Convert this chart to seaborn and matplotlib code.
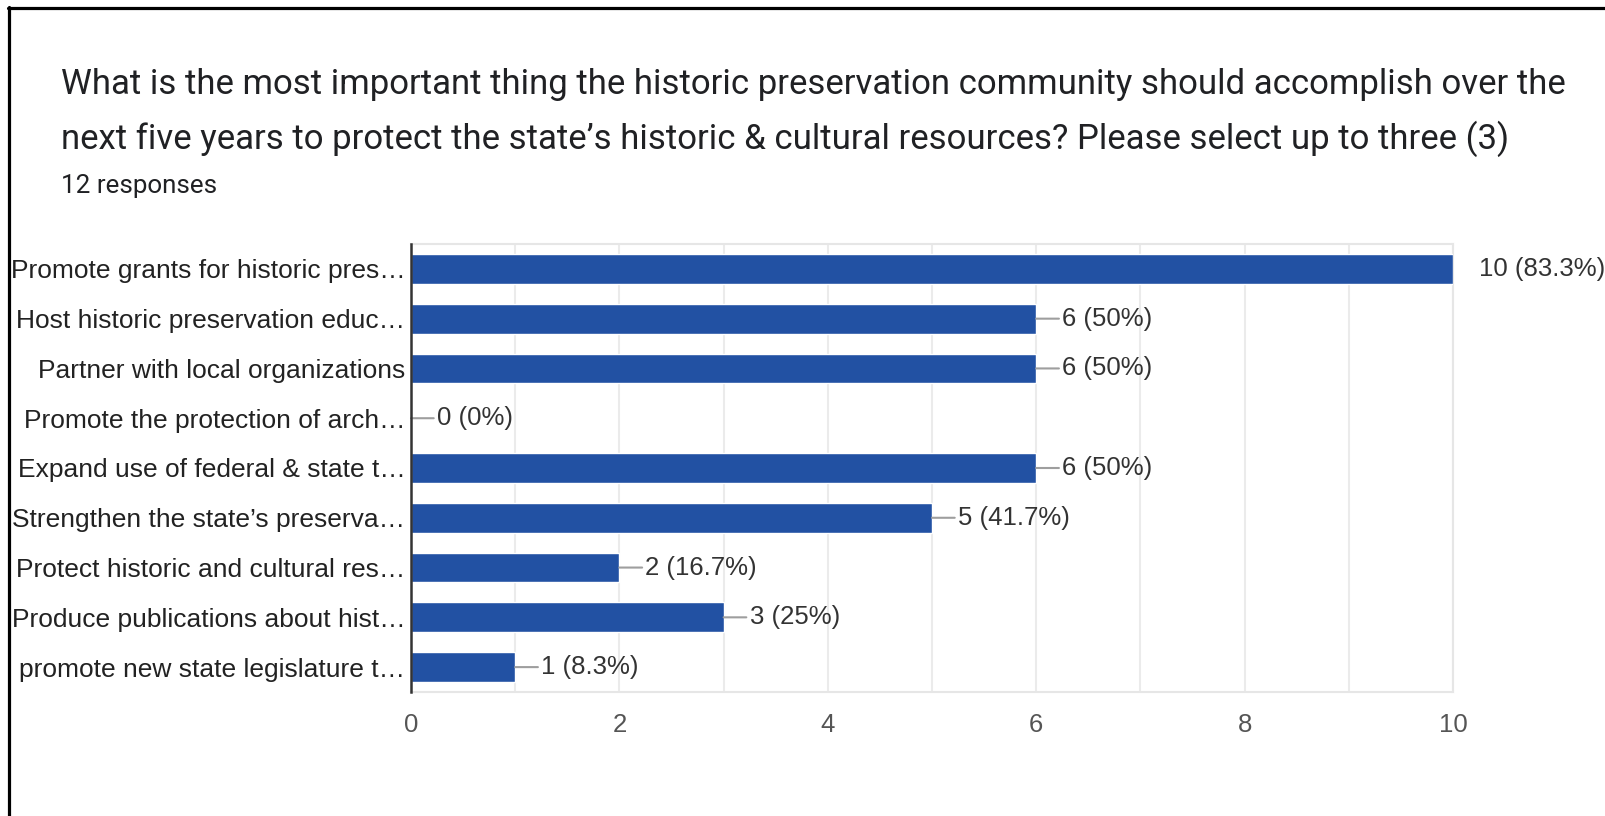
import matplotlib
matplotlib.use("Agg")
import matplotlib.pyplot as plt
from matplotlib.lines import Line2D
import seaborn as sns
import pandas as pd

# ---- data ----
categories = [
    "Promote grants for historic pres…",
    "Host historic preservation educ…",
    "Partner with local organizations",
    "Promote the protection of arch…",
    "Expand use of federal & state t…",
    "Strengthen the state’s preserva…",
    "Protect historic and cultural res…",
    "Produce publications about hist…",
    "promote new state legislature t…",
]
counts = [10, 6, 6, 0, 6, 5, 2, 3, 1]
n_responses = 12
x_ticks = [0, 2, 4, 6, 8, 10]
title_lines = [
    "What is the most important thing the historic preservation community should accomplish over the",
    "next five years to protect the state’s historic & cultural resources? Please select up to three (3)",
]
subtitle = f"{n_responses} responses"

df = pd.DataFrame({"category": categories, "count": counts})

sns.set_theme(style="white")
plt.rcParams["font.family"] = ["Liberation Sans", "DejaVu Sans"]

W, H = 1605, 816
fig = plt.figure(figsize=(W / 100, H / 100), dpi=100)
fig.patch.set_facecolor("white")
ax = fig.add_axes([411 / W, 1 - 692 / H, (1453 - 411) / W, (692 - 244) / H])

sns.barplot(data=df, x="count", y="category", orient="h", color="#2251a3",
            saturation=1, width=0.6, ax=ax, zorder=3)

xmax = max(x_ticks)
ax.set_xlim(0, xmax)
ax.set_ylim(len(categories) - 0.5, -0.5)
ax.set_xticks(x_ticks)
ax.set_xticks(range(0, xmax + 1), minor=True)
ax.grid(False)
ax.grid(True, axis="x", which="both", color="#ebebeb", lw=1.5, zorder=0)
ax.set_xlabel("")
ax.set_ylabel("")
ax.tick_params(axis="x", which="both", length=0, pad=15, labelsize=18.5, labelcolor="#555555")
ax.tick_params(axis="y", length=0, pad=4, labelsize=19, labelcolor="#222222")
ax.set_xticklabels([str(t) for t in x_ticks])

for s in ["top", "bottom", "right"]:
    ax.spines[s].set_color("#e6e6e6")
    ax.spines[s].set_linewidth(1.5)
ax.spines["left"].set_color("#333333")
ax.spines["left"].set_linewidth(1.8)
ax.spines["left"].set_zorder(5)

for i, v in enumerate(counts):
    pct = round(v / n_responses * 100, 1)
    label = f"{v} ({pct:g}%)"
    kw = {}
    if v < xmax:
        kw["arrowprops"] = dict(arrowstyle="-", color="#9e9e9e", lw=1.5,
                                shrinkA=0, shrinkB=0)
    ax.annotate(label, xy=(v, i), xytext=(26, 0), textcoords="offset pixels",
                va="center", ha="left", fontsize=18.5, color="#333333",
                annotation_clip=False, **kw)

# title
tfam = ["Roboto", "DejaVu Sans"]
fig.text(61 / W, 1 - 94 / H, title_lines[0], fontsize=25, color="#202124",
         family=tfam, va="baseline", ha="left")
fig.text(61 / W, 1 - 149 / H, title_lines[1], fontsize=25, color="#202124",
         family=tfam, va="baseline", ha="left")
fig.text(61 / W, 1 - 193 / H, subtitle, fontsize=18.7, color="#202124",
         family=tfam, va="baseline", ha="left")

# frame (top and left edges)
fig.add_artist(Line2D([8 / W, 1], [1 - 7.5 / H, 1 - 7.5 / H], color="black",
                      lw=2.3, transform=fig.transFigure))
fig.add_artist(Line2D([9 / W, 9 / W], [0, 1 - 6.5 / H], color="black",
                      lw=2.3, transform=fig.transFigure))

fig.savefig("out.png", dpi=100, facecolor="white")
